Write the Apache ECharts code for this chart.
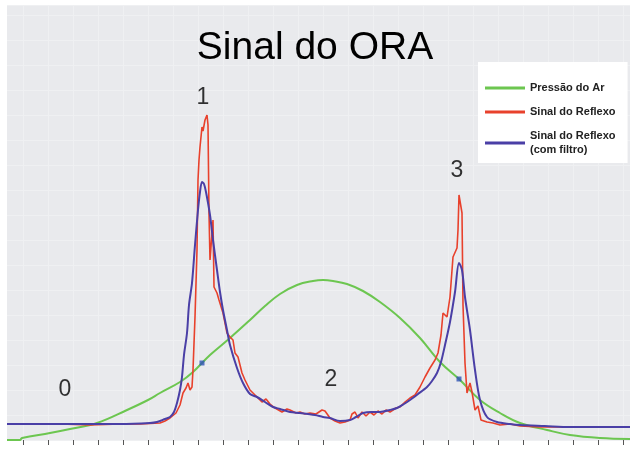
<!DOCTYPE html>
<html>
<head>
<meta charset="utf-8">
<script src="https://cdn.jsdelivr.net/npm/echarts@6/dist/echarts.min.js"></script>
<style>
html,body{margin:0;padding:0;background:#fff;}
#chart{width:630px;height:449px;}
</style>
</head>
<body>
<div id="chart"></div>
<script>
// Data (time in arbitrary units, amplitude in arbitrary units)
var titleText = 'Sinal do ORA';
var seriesNames = ['Pressão do Ar', 'Sinal do Reflexo', 'Sinal do Reflexo\n(com filtro)'];

var pressao = [
  [-16,0],[-3,0],[-1,2],[27,7],[47,11],[74,17],[104,30],[125,40],[137,47],[157,58],[170,68],
  [187,85],[207,102],[227,120],[242,134],[257,146],[274,155],[290,159],[300,160],[310,159],[324,156],
  [340,149],[357,138],[377,122],[397,102],[417,78],[437,60],[457,40],[477,27],[497,17],
  [524,10],[547,5],[577,2],[607,1]
];

var reflexo = [
  [-16,16],[7,16],[37,16],[67,15],[97,16],[117,16],[137,17],[142,19],[147,22],[153,27],[157,35],
  [160,47],[163,52],[165,57],[167,50],[169,53],[170,70],[172,123],[174,190],[175,260],[176,280],
  [177,293],[179,313],[180,309],[182,320],[184,325],[185,315],[186,227],[187,180],[190,220],
  [191,153],[194,147],[196,140],[200,127],[204,107],[207,103],[210,100],[212,87],[215,83],
  [219,67],[222,60],[227,50],[233,44],[239,38],[243,41],[247,36],[252,32],[259,28],[264,31],
  [267,30],[273,27],[277,28],[282,26],[287,27],[293,26],[299,30],[302,29],[307,22],[312,19],
  [317,17],[322,18],[327,20],[329,26],[332,28],[335,22],[339,28],[343,24],[347,28],[351,25],
  [355,29],[359,26],[363,30],[367,28],[373,32],[377,33],[382,38],[387,42],[392,45],[397,53],
  [402,63],[407,72],[412,80],[415,87],[418,105],[420,127],[424,123],[427,143],[430,183],
  [432,184],[434,192],[435,210],[436,245],[439,227],[440,135],[442,77],[444,47],[447,57],
  [449,48],[452,30],[455,34],[458,20],[464,18],[470,17],[477,15],[487,16],[497,14],[517,13],
  [547,13],[577,13],[607,13]
];

var reflexoFiltro = [
  [-16,16],[37,16],[97,16],[127,17],[134,18],[142,21],[147,23],[151,28],[154,37],[157,50],
  [159,63],[161,85],[164,107],[166,135],[169,157],[172,195],[175,230],[177,248],[179,258],
  [181,256],[183,248],[187,225],[190,200],[194,170],[197,148],[200,130],[204,110],[207,95],
  [214,72],[220,57],[227,46],[234,43],[242,38],[250,33],[257,31],[267,28],[277,27],[292,25],
  [300,23],[307,22],[317,19],[327,20],[333,23],[340,27],[349,28],[357,28],[367,30],[374,32],
  [381,36],[387,40],[395,46],[404,53],[409,59],[414,67],[418,78],[422,95],[427,118],[432,148],
  [436,177],[439,170],[442,143],[447,110],[452,70],[457,40],[464,23],[474,18],[487,16],
  [497,15],[522,14],[547,13],[607,13]
];

var marcadores = [[179,77],[436,61]];

var fases = [[42,50,'0'],[180,342,'1'],[308,60,'2'],[434,269,'3']];

var xTicks = [];
for (var k = 0; k <= 24; k++) xTicks.push(k * 25);

var chart = echarts.init(document.getElementById('chart'), null, {renderer: 'canvas'});
var FONT = '"Liberation Sans", Arial, sans-serif';

chart.setOption({
  animation: false,
  backgroundColor: '#ffffff',
  title: {
    text: titleText,
    left: 'center',
    top: 24,
    textStyle: {fontFamily: FONT, fontSize: 39, fontWeight: 'normal', color: '#000'}
  },
  legend: {
    orient: 'vertical',
    left: 478,
    top: 62,
    backgroundColor: '#ffffff',
    padding: [19, 12, 6, 7],
    itemWidth: 40,
    itemHeight: 3,
    itemGap: 10,
    icon: 'rect',
    data: seriesNames,
    textStyle: {fontFamily: FONT, fontSize: 11, fontWeight: 'bold', color: '#222', lineHeight: 14}
  },
  grid: {
    left: 7, right: 0, top: 5, bottom: 9,
    show: true, backgroundColor: '#e9eaed', borderWidth: 0
  },
  xAxis: {
    type: 'value', min: -16, max: 607,
    axisLine: {show: false},
    axisTick: {show: true, length: 5, customValues: xTicks, lineStyle: {color: '#555', width: 1}},
    axisLabel: {show: false},
    splitLine: {show: true, lineStyle: {color: '#eff0f2', width: 1}}
  },
  yAxis: {
    type: 'value', min: 0, max: 435, interval: 25,
    axisLine: {show: false}, axisTick: {show: false}, axisLabel: {show: false},
    splitLine: {show: true, lineStyle: {color: '#eff0f2', width: 1}}
  },
  series: [
    {
      name: seriesNames[0], type: 'line', data: pressao, smooth: 0.4, showSymbol: false,
      lineStyle: {color: '#6cc650', width: 2}, itemStyle: {color: '#6cc650'}, z: 2
    },
    {
      name: seriesNames[1], type: 'line', data: reflexo, smooth: false, showSymbol: false,
      lineStyle: {color: '#e8412c', width: 1.6}, itemStyle: {color: '#e8412c'}, z: 3
    },
    {
      name: seriesNames[2], type: 'line', data: reflexoFiltro, smooth: 0.3, showSymbol: false,
      lineStyle: {color: '#4a3fa6', width: 2}, itemStyle: {color: '#4a3fa6'}, z: 4
    },
    {
      name: 'marcadores', type: 'scatter', data: marcadores, symbol: 'rect', symbolSize: 5,
      itemStyle: {color: '#2f52b8'}, z: 5
    },
    {
      name: 'fases', type: 'scatter', data: fases, symbolSize: 0,
      label: {
        show: true, position: 'inside',
        formatter: function (p) { return p.value[2]; },
        fontFamily: FONT, fontSize: 23, color: '#000', textBorderWidth: 0
      },
      z: 6
    }
  ]
});
</script>
</body>
</html>
